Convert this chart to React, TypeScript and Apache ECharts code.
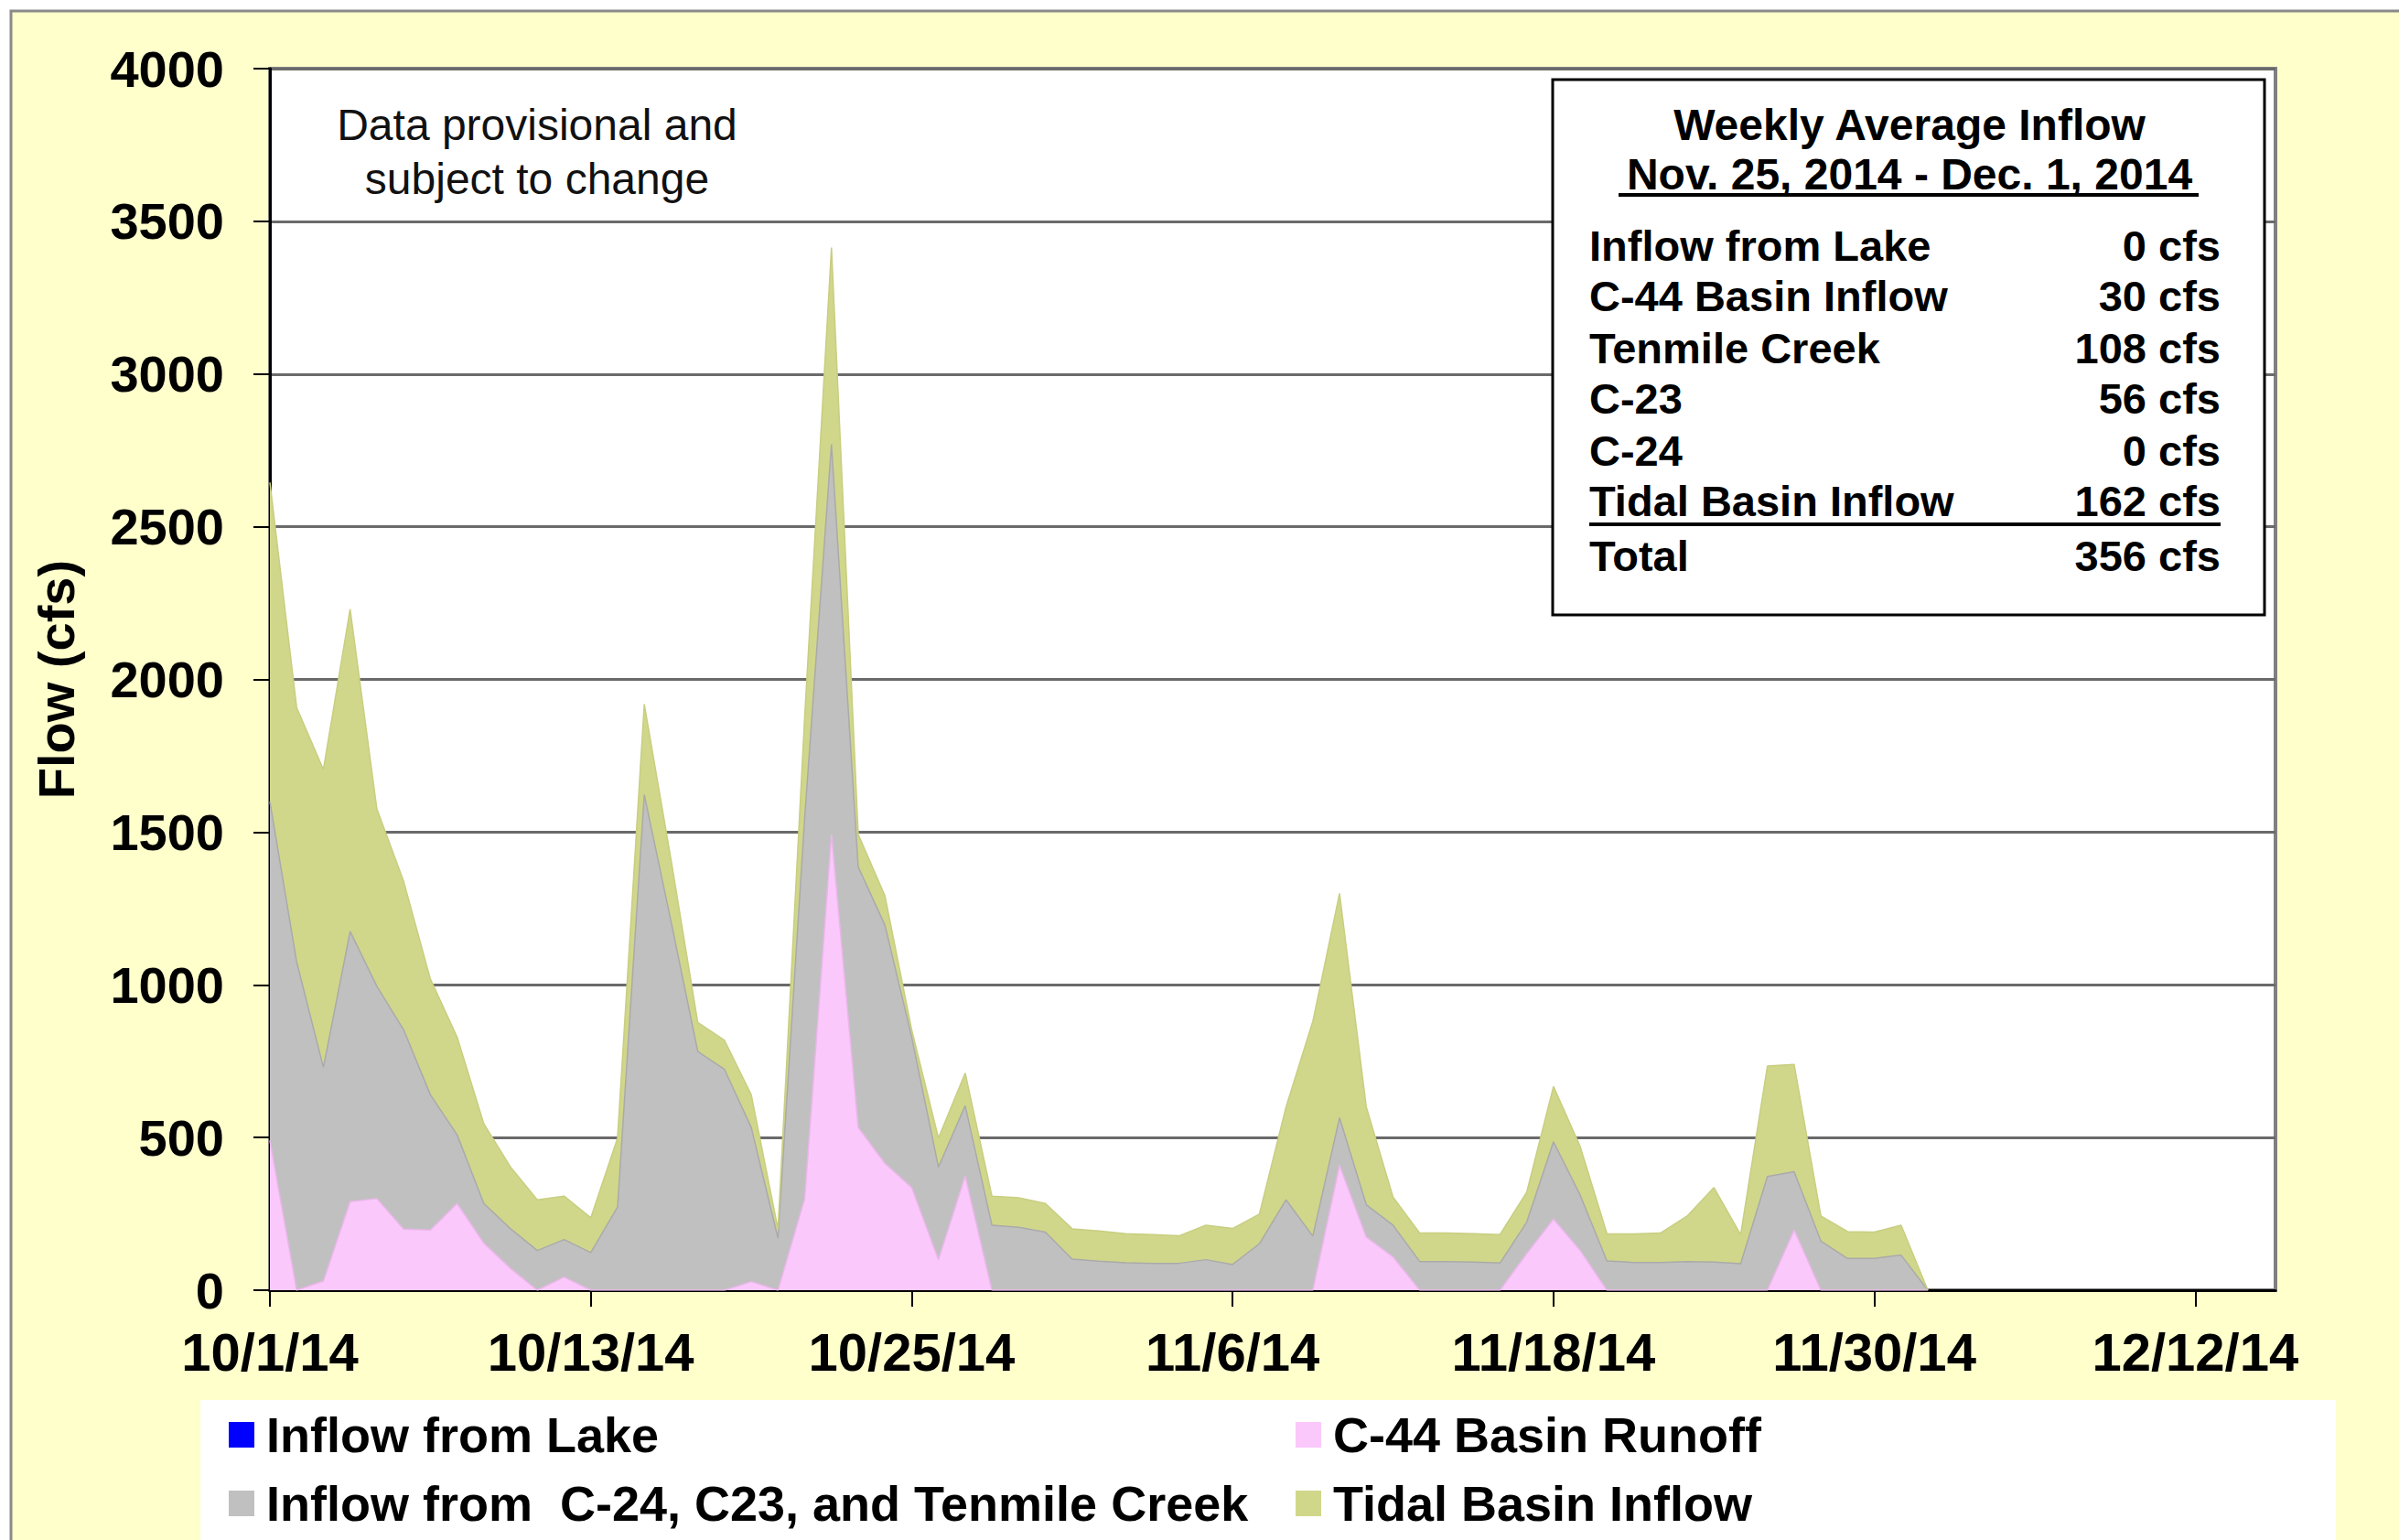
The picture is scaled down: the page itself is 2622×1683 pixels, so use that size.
import React, { useEffect, useRef } from "react";
import * as echarts from "echarts";

// ---- Data (daily values starting 10/1/14, cfs); day index 0 = 10/1/14 ----
const dayIndex: number[] = [
  0, 1, 2, 3, 4, 5, 6, 7, 8, 9, 10, 11, 12, 13, 14, 15, 16, 17, 18, 19, 20,
  21, 22, 23, 24, 25, 26, 27, 28, 29, 30, 31, 32, 33, 34, 35, 36, 37, 38, 39,
  40, 41, 42, 43, 44, 45, 46, 47, 48, 49, 50, 51, 52, 53, 54, 55, 56, 57, 58,
  59, 60, 61, 62, 63, 64, 65, 66, 67, 68, 69, 70, 71, 72, 73, 74, 75,
];

const inflowFromLake: number[] = [
  0, 0, 0, 0, 0, 0, 0, 0, 0, 0, 0, 0, 0, 0, 0, 0, 0, 0, 0, 0, 0, 0, 0, 0, 0, 0,
  0, 0, 0, 0, 0, 0, 0, 0, 0, 0, 0, 0, 0, 0, 0, 0, 0, 0, 0, 0, 0, 0, 0, 0, 0, 0,
  0, 0, 0, 0, 0, 0, 0, 0, 0, 0, 0,
];

const c44Runoff: number[] = [
  490, 0, 30, 290, 300, 200, 197, 284, 154, 71, 0, 43, 0, 0, 0, 0, 0, 0, 28, 0,
  300, 1493, 533, 415, 336, 100, 374, 0, 0, 0, 0, 0, 0, 0, 0, 0, 0, 0, 0, 0,
  409, 174, 109, 0, 0, 0, 0, 120, 233, 130, 0, 0, 0, 0, 0, 0, 0, 197, 0, 0, 0,
  0, 0,
];

const c24c23Tenmile: number[] = [
  1110, 1075, 700, 885, 695, 653, 443, 225, 130, 130, 130, 123, 123, 272, 1623,
  1208, 782, 723, 505, 170, 1250, 1277, 853, 780, 493, 303, 230, 213, 206, 190,
  102, 95, 90, 88, 88, 100, 84, 152, 296, 177, 156, 106, 104, 94, 94, 92, 89,
  103, 253, 181, 96, 91, 91, 94, 92, 87, 372, 191, 161, 104, 104, 115, 0,
];

const tidalBasin: number[] = [
  1045, 833, 975, 1055, 581, 486, 379, 320, 261, 202, 166, 142, 114, 226, 296,
  202, 95, 95, 107, 30, 330, 644, 107, 96, 24, 95, 107, 95, 97, 94, 99, 99, 95,
  94, 90, 113, 118, 97, 304, 703, 734, 320, 92, 93, 93, 93, 93, 98, 181, 159,
  89, 93, 96, 149, 244, 95, 362, 351, 82, 88, 86, 98, 0,
];

const xTickLabels: string[] = [
  "10/1/14",
  "10/13/14",
  "10/25/14",
  "11/6/14",
  "11/18/14",
  "11/30/14",
  "12/12/14",
];

const seriesNames: string[] = [
  "Inflow from Lake",
  "C-44 Basin Runoff",
  "Inflow from  C-24, C23, and Tenmile Creek",
  "Tidal Basin Inflow",
];
const seriesColors: string[] = ["#0000FF", "#FBC8FB", "#C0C0C0", "#D1D78A"];
const seriesLineColors: string[] = ["#0000FF", "#E9B6E9", "#AAAAAA", "#C8CE80"];

const infoTitle: string[] = ["Weekly Average Inflow", "Nov. 25, 2014 - Dec. 1, 2014"];
const infoLabels: string[] = [
  "Inflow from Lake",
  "C-44 Basin Inflow",
  "Tenmile Creek",
  "C-23",
  "C-24",
  "Tidal Basin Inflow",
  "Total",
];
const infoValues: string[] = [
  "0 cfs",
  "30 cfs",
  "108 cfs",
  "56 cfs",
  "0 cfs",
  "162 cfs",
  "356 cfs",
];

const noteLines: string[] = ["Data provisional and", "subject to change"];

const FONT = "'Liberation Sans', Arial, Helvetica, sans-serif";

export default function App() {
  const ref = useRef<HTMLDivElement | null>(null);

  useEffect(() => {
    document.body.style.margin = "0";
    if (!ref.current) return;
    const chart = echarts.init(ref.current, undefined, { renderer: "svg" });

    const seriesData = [inflowFromLake, c44Runoff, c24c23Tenmile, tidalBasin];

    const series = seriesData.map((vals, i) => ({
      name: seriesNames[i],
      type: "line",
      stack: "flow",
      symbol: "none",
      showSymbol: false,
      color: seriesColors[i],
      lineStyle: {
        width: i === 0 ? 0 : 1.5,
        color: seriesLineColors[i],
        opacity: i === 0 ? 0 : 1,
      },
      areaStyle: { color: seriesColors[i], opacity: 1 },
      data: vals,
      z: 2,
    }));

    const rowY = [268, 323, 380, 435, 492, 547, 607];

    const graphics: any[] = [
      {
        type: "rect",
        z: -10,
        shape: { x: 12, y: 12, width: 2700, height: 1800 },
        style: { fill: "#FFFFCC", stroke: "#8A8A8A", lineWidth: 3 },
        silent: true,
      },
      {
        type: "rect",
        z: -5,
        shape: { x: 219, y: 1530, width: 2334, height: 200 },
        style: { fill: "#FFFFFF" },
        silent: true,
      },
      ...noteLines.map((t, i) => ({
        type: "text",
        z: 50,
        style: {
          text: t,
          x: 587,
          y: 136 + i * 59,
          textAlign: "center",
          textVerticalAlign: "middle",
          fontSize: 48,
          fontFamily: FONT,
          fill: "#111",
        },
      })),
      {
        type: "rect",
        z: 60,
        shape: { x: 1697, y: 87, width: 778, height: 585 },
        style: { fill: "#FFFFFF", stroke: "#000000", lineWidth: 3 },
      },
      ...infoTitle.map((t, i) => ({
        type: "text",
        z: 61,
        style: {
          text: t,
          x: 2087,
          y: i === 0 ? 136 : 190,
          textAlign: "center",
          textVerticalAlign: "middle",
          fontSize: 48,
          fontWeight: "bold",
          fontFamily: FONT,
          fill: "#000",
        },
      })),
      {
        type: "line",
        z: 61,
        shape: { x1: 1769, y1: 213, x2: 2403, y2: 213 },
        style: { stroke: "#000", lineWidth: 4 },
      },
      ...infoLabels.map((t, i) => ({
        type: "text",
        z: 61,
        style: {
          text: t,
          x: 1737,
          y: rowY[i],
          textAlign: "left",
          textVerticalAlign: "middle",
          fontSize: 47,
          fontWeight: "bold",
          fontFamily: FONT,
          fill: "#000",
        },
      })),
      ...infoValues.map((t, i) => ({
        type: "text",
        z: 61,
        style: {
          text: t,
          x: 2427,
          y: rowY[i],
          textAlign: "right",
          textVerticalAlign: "middle",
          fontSize: 47,
          fontWeight: "bold",
          fontFamily: FONT,
          fill: "#000",
        },
      })),
      {
        type: "line",
        z: 61,
        shape: { x1: 1737, y1: 573, x2: 2427, y2: 573 },
        style: { stroke: "#000", lineWidth: 4 },
      },
    ];

    const legendCommon = {
      orient: "vertical",
      top: 1541,
      padding: 0,
      itemGap: 21,
      itemWidth: 28,
      itemHeight: 28,
      icon: "rect",
      selectedMode: false,
      textStyle: {
        fontSize: 54,
        fontWeight: "bold",
        fontFamily: FONT,
        color: "#000",
        padding: [0, 0, 0, 8],
      },
    };

    chart.setOption({
      animation: false,
      backgroundColor: "#FFFFFF",
      grid: {
        left: 295,
        top: 75,
        width: 2192,
        height: 1335,
        show: true,
        backgroundColor: "#FFFFFF",
        borderColor: "#808080",
        borderWidth: 4,
        containLabel: false,
      },
      legend: [
        {
          ...legendCommon,
          left: 250,
          data: [0, 2].map((i) => ({
            name: seriesNames[i],
            itemStyle: { color: seriesColors[i], borderWidth: 0 },
          })),
        },
        {
          ...legendCommon,
          left: 1416,
          data: [1, 3].map((i) => ({
            name: seriesNames[i],
            itemStyle: { color: seriesColors[i], borderWidth: 0 },
          })),
        },
      ],
      xAxis: {
        type: "category",
        boundaryGap: false,
        data: dayIndex.map(String),
        axisLine: { show: true, onZero: false, lineStyle: { color: "#000", width: 3 } },
        axisTick: {
          show: true,
          interval: 11,
          length: 18,
          lineStyle: { color: "#000", width: 2 },
        },
        axisLabel: {
          interval: 11,
          margin: 38,
          fontSize: 58,
          fontWeight: "bold",
          fontFamily: FONT,
          color: "#000",
          hideOverlap: false,
          formatter: (_v: string, idx: number) =>
            idx % 12 === 0 && xTickLabels[idx / 12] ? xTickLabels[idx / 12] : "",
        },
        splitLine: { show: false },
      },
      yAxis: {
        type: "value",
        min: 0,
        max: 4000,
        interval: 500,
        name: "Flow (cfs)",
        nameLocation: "middle",
        nameRotate: 90,
        nameGap: 206,
        nameTextStyle: {
          fontSize: 56,
          fontWeight: "bold",
          fontFamily: FONT,
          color: "#000",
        },
        axisLine: { show: true, lineStyle: { color: "#000", width: 3 } },
        axisTick: { show: true, length: 18, lineStyle: { color: "#000", width: 2 } },
        axisLabel: {
          margin: 50,
          fontSize: 56,
          fontWeight: "bold",
          fontFamily: FONT,
          color: "#000",
          formatter: (v: number) => String(v),
        },
        splitLine: { show: true, lineStyle: { color: "#6A6A6A", width: 3 } },
      },
      series,
      graphic: graphics,
    });

    return () => {
      chart.dispose();
    };
  }, []);

  return (
    <div
      ref={ref}
      style={{ position: "absolute", left: 0, top: 0, width: 2622, height: 1683 }}
    />
  );
}
